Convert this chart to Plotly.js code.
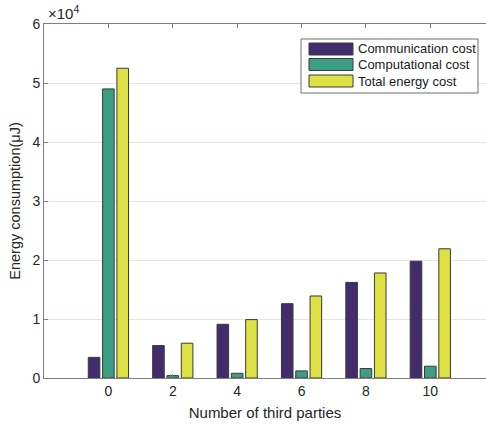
<!DOCTYPE html>
<html>
<head>
<meta charset="utf-8">
<script src="https://cdn.plot.ly/plotly-3.0.1.min.js"></script>
<style>html,body{margin:0;padding:0;background:#fff;}#chart{width:486px;height:424px;}</style>
</head>
<body>
<div id="chart"></div>
<script>
// Data (values in units of 1e4 µJ)
const thirdParties = [0, 2, 4, 6, 8, 10];
const communicationCost = [0.35, 0.55, 0.91, 1.26, 1.62, 1.98];
const computationalCost = [4.90, 0.04, 0.08, 0.12, 0.16, 0.20];
const totalEnergyCost = [5.25, 0.59, 0.99, 1.39, 1.78, 2.19];
const seriesNames = ["Communication cost", "Computational cost", "Total energy cost"];
const seriesColors = ["#432c6e", "#3c9e82", "#dde143"];
const yTicks = [0, 1, 2, 3, 4, 5, 6];

const seriesValues = [communicationCost, computationalCost, totalEnergyCost];
const traces = seriesValues.map((vals, i) => ({
  type: "bar",
  x: thirdParties,
  y: vals,
  name: seriesNames[i],
  marker: { color: seriesColors[i], line: { color: "#3a3a3a", width: 1 } },
  showlegend: false
}));

// Plot area geometry in px for the custom legend
const L = 44, R = 486, T = 24, B = 378;
const px = v => (v - L) / (R - L);
const py = v => (B - v) / (B - T);

const shapes = [
  { type: "rect", xref: "paper", yref: "paper", x0: px(301), x1: px(478), y0: py(93), y1: py(39),
    line: { color: "#6e6e6e", width: 1 }, fillcolor: "#ffffff", layer: "above" }
];
const annotations = [
  { xref: "paper", yref: "paper", x: 0.005, y: 1.0, xanchor: "left", yanchor: "bottom",
    text: "×10<sup>4</sup>", showarrow: false, font: { size: 15, color: "#262626", family: "Liberation Sans, Arial, sans-serif" } }
];
const rowCenters = [49, 64.5, 81];
seriesNames.forEach((n, i) => {
  const c = rowCenters[i];
  shapes.push({ type: "rect", xref: "paper", yref: "paper", x0: px(309), x1: px(353), y0: py(c + 6), y1: py(c - 6),
    line: { color: "#3a3a3a", width: 1 }, fillcolor: seriesColors[i], layer: "above" });
  annotations.push({ xref: "paper", yref: "paper", x: px(356), y: py(c), xanchor: "left", yanchor: "middle",
    text: n, showarrow: false, font: { size: 13, color: "#1a1a1a", family: "Liberation Sans, Arial, sans-serif" } });
});

const layout = {
  width: 486, height: 424,
  margin: { l: L, r: 486 - R, t: T, b: 424 - B },
  paper_bgcolor: "#ffffff", plot_bgcolor: "#ffffff",
  font: { family: "Liberation Sans, Arial, sans-serif", color: "#262626", size: 14 },
  barmode: "group", bargap: 0.333, bargroupgap: 0.19,
  showlegend: false,
  xaxis: {
    range: [-2, 11.73], tickmode: "array", tickvals: thirdParties, ticktext: thirdParties.map(String),
    ticks: "inside", ticklen: 4, tickcolor: "#7f7f7f",
    showline: true, linecolor: "#7f7f7f", linewidth: 1, mirror: "ticks",
    showgrid: false, zeroline: false,
    tickfont: { size: 14, color: "#262626" },
    title: { text: "Number of third parties", font: { size: 15, color: "#262626" }, standoff: 9 }
  },
  yaxis: {
    range: [0, 6], tickmode: "array", tickvals: yTicks, ticktext: yTicks.map(String),
    ticks: "inside", ticklen: 4, tickcolor: "#7f7f7f",
    showline: true, linecolor: "#7f7f7f", linewidth: 1,
    showgrid: true, gridcolor: "#ebe3e3", zeroline: false,
    tickfont: { size: 14, color: "#262626" },
    title: { text: "Energy consumption(μJ)", font: { size: 14.5, color: "#262626" }, standoff: 8 }
  },
  shapes: shapes,
  annotations: annotations
};

Plotly.newPlot("chart", traces, layout, { displayModeBar: false, staticPlot: true });
</script>
</body>
</html>
